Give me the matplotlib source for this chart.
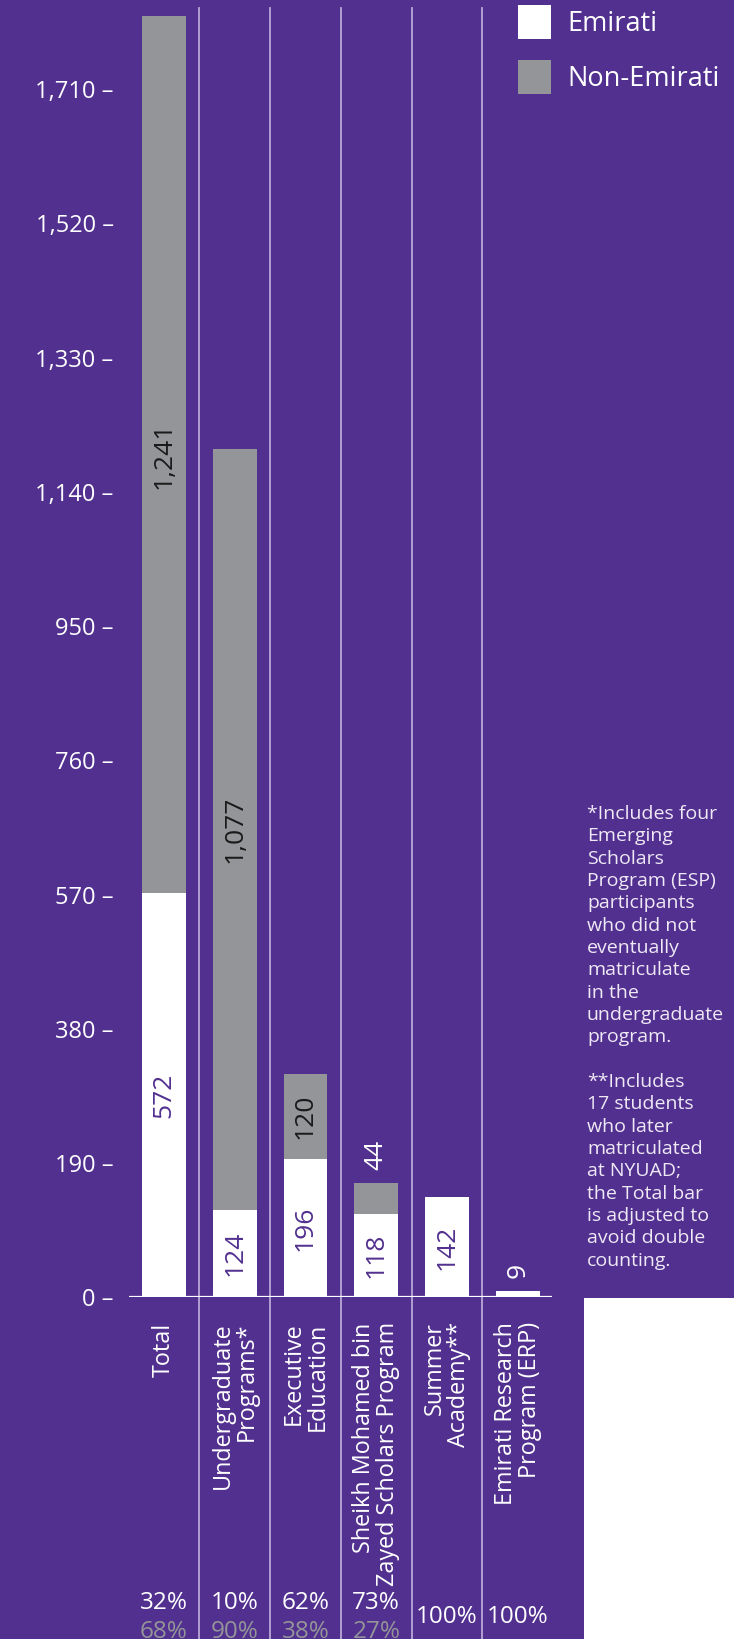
import matplotlib
matplotlib.use("Agg")
import matplotlib.pyplot as plt
import matplotlib.transforms as mtransforms
from matplotlib.patches import Rectangle

plt.rcParams['font.family'] = ['Open Sans', 'DejaVu Sans']

# data
categories = [
    "Total",
    "Undergraduate\nPrograms*",
    "Executive\nEducation",
    "Sheikh Mohamed bin\nZayed Scholars Program",
    "Summer\nAcademy**",
    "Emirati Research\nProgram (ERP)",
]
emirati = [572, 124, 196, 118, 142, 9]
non_emirati = [1241, 1077, 120, 44, 0, 0]
pct_emirati = ["32%", "10%", "62%", "73%", "100%", "100%"]
pct_non_emirati = ["68%", "90%", "38%", "27%", "", ""]
yticks = [0, 190, 380, 570, 760, 950, 1140, 1330, 1520, 1710]

footnote = ("*Includes four\nEmerging\nScholars\nProgram (ESP)\nparticipants\n"
            "who did not\neventually\nmatriculate\nin the\nundergraduate\nprogram.\n\n"
            "**Includes\n17 students\nwho later\nmatriculated\nat NYUAD;\nthe Total bar\n"
            "is adjusted to\navoid double\ncounting.")

PURPLE = "#52308f"
GREY = "#939598"
SEP = "#b9a8d8"
W, H = 734, 1639


def fx(px):
    return px / W


def fy(py):
    return 1 - py / H


fig = plt.figure(figsize=(W / 100, H / 100), dpi=100, facecolor=PURPLE)
ax = fig.add_axes([fx(129), fy(1297.3), fx(552) - fx(129), fy(8) - fy(1297.3)])
ax.set_facecolor("none")
for s in ax.spines.values():
    s.set_visible(False)

x = list(range(len(categories)))
width = 0.62
ax.bar(x, emirati, width, color="white", zorder=3)
ax.bar(x, non_emirati, width, bottom=emirati, color=GREY, zorder=3)
ax.set_xlim(-0.495, 5.484)
ax.set_ylim(0, 1825)

# baseline
ax.axhline(0, color="white", lw=1.6, zorder=4)

# separators between categories, running down to the bottom of the figure
for i in range(len(categories) - 1):
    ax.axvline(i + 0.5, ymin=-0.3, ymax=1, color=SEP, lw=1.3, clip_on=False, zorder=2)

# y ticks
ax.set_yticks(yticks)
ax.set_yticklabels([f"{v:,} \u2013" for v in yticks])
ax.tick_params(axis="y", length=0, pad=11, labelsize=17, labelcolor="white")

# category labels
ax.set_xticks(x)
ax.set_xticklabels(categories, rotation=90, va="top", ha="center",
                   multialignment="right", linespacing=1.0)
ax.tick_params(axis="x", length=0, pad=18, labelsize=16.8, labelcolor="white")

# value labels
for i in x:
    e, n = emirati[i], non_emirati[i]
    if e >= 60:
        ax.text(i, e / 2, f"{e:,}", rotation=90, ha="center", va="center",
                color=PURPLE, fontsize=19, zorder=5)
    else:
        ax.annotate(f"{e:,}", (i, e), xytext=(0, 9), textcoords="offset points",
                    rotation=90, ha="center", va="bottom", color="white", fontsize=19)
    if n == 0:
        continue
    if n >= 60:
        ax.text(i, e + n / 2, f"{n:,}", rotation=90, ha="center", va="center",
                color="#1a1a1a", fontsize=19, zorder=5)
    else:
        ax.annotate(f"{n:,}", (i, e + n), xytext=(0, 9), textcoords="offset points",
                    rotation=90, ha="center", va="bottom", color="white", fontsize=19)

# share rows at the bottom (the lower row is cut by the page edge, as in the original)
trans = mtransforms.blended_transform_factory(ax.transData, fig.transFigure)
for i in x:
    if pct_non_emirati[i]:
        ax.text(i, fy(1603), pct_emirati[i], transform=trans, ha="center", va="center",
                color="white", fontsize=17.5, clip_on=False)
        ax.text(i, fy(1632), pct_non_emirati[i], transform=trans, ha="center", va="center",
                color=GREY, fontsize=17.5, clip_on=False)
    else:
        ax.text(i, fy(1617), pct_emirati[i], transform=trans, ha="center", va="center",
                color="white", fontsize=17.5, clip_on=False)

# legend
fig.patches.append(Rectangle((fx(518), fy(39)), fx(33), 34 / H, transform=fig.transFigure,
                             facecolor="white", edgecolor="none"))
fig.patches.append(Rectangle((fx(518), fy(94)), fx(33), 34 / H, transform=fig.transFigure,
                             facecolor=GREY, edgecolor="none"))
fig.text(fx(567), fy(24), "Emirati", color="white", fontsize=19.5, va="center", ha="left")
fig.text(fx(567), fy(79), "Non-Emirati", color="white", fontsize=19.5, va="center", ha="left")

# footnote
fig.text(fx(587), fy(805), footnote, color="#efe9f6", fontsize=14, va="top", ha="left",
         linespacing=1.31)

# white block in lower right corner
fig.patches.append(Rectangle((fx(584), 0), 1 - fx(584), fy(1298), transform=fig.transFigure,
                             facecolor="white", edgecolor="none"))

fig.savefig("out.png", dpi=100, facecolor=PURPLE)
